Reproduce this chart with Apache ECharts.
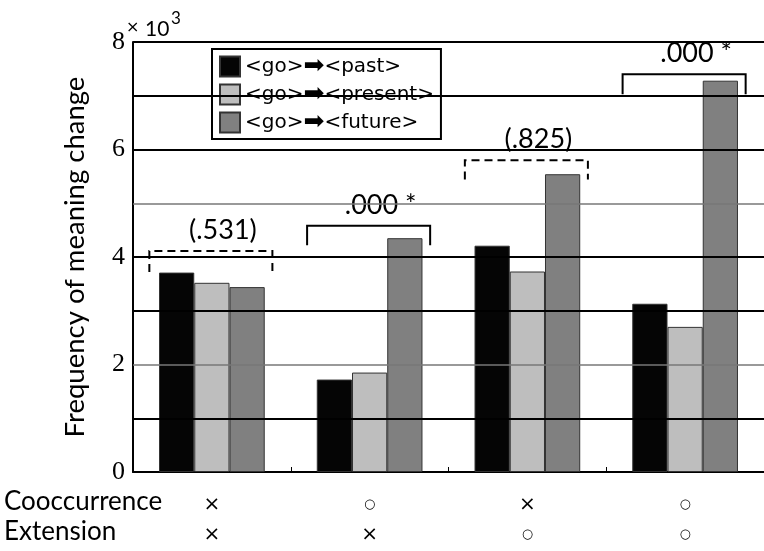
<!DOCTYPE html>
<html>
<head>
<meta charset="utf-8">
<script src="https://cdn.jsdelivr.net/npm/echarts@6/dist/echarts.min.js"></script>
<style>
  html, body { margin: 0; padding: 0; background: #fff; }
  #container { width: 764px; height: 551px; }
</style>
</head>
<body>
<div id="container"></div>
<script>
// data (frequency, raw counts)
var seriesNames = ['<go>➡<past>', '<go>➡<present>', '<go>➡<future>'];
var pastValues = [3710, 1720, 4210, 3130];
var presentValues = [3520, 1850, 3730, 2700];
var futureValues = [3440, 4350, 5540, 7280];
var cooccurrence = ['×', '○', '×', '○'];
var extension = ['×', '×', '○', '○'];
var categories = ['G1', 'G2', 'G3', 'G4'];
// significance brackets: [category, top, leg end, dashed, label]
var brackets = [
	[0, 4110, 3720, 1, '(.531)'],
	[1, 4580, 4220, 0, '.000 *'],
	[2, 5800, 5440, 1, '(.825)'],
	[3, 7400, 7030, 0, '.000 *']
];
var grayGridValues = [2000, 5000];

var dom = document.getElementById("container");
var myChart = echarts.init(dom);

function bracketItem(params, api) {
	var cat = api.value(0);
	var top = api.coord([cat, api.value(1)]);
	var legY = api.coord([cat, api.value(2)])[1];
	var half = api.size([1, 0])[0] * 0.39;
	var dashed = api.value(3) === 1;
	var cx = top[0] - 1;
	return {
		type: 'group',
		children: [{
			type: 'polyline',
			shape: { points: [[cx - half, legY], [cx - half, top[1]], [cx + half, top[1]], [cx + half, legY]] },
			style: { stroke: '#000', lineWidth: 2, fill: null, lineDash: dashed ? [8, 5] : null }
		}, {
			type: 'text',
			x: cx + 12,
			y: top[1] - 7,
			style: {
				text: brackets[params.dataIndex][4],
				font: '27px Lato',
				fill: '#000',
				align: 'center',
				verticalAlign: 'bottom'
			}
		}]
	};
}

function symbolLabel(s) {
	return s === '×' ? '{x|×}' : '{o|○}';
}

var barBorder = { borderColor: '#333', borderWidth: 1 };

var option = {
	animation: false,
	backgroundColor: '#fff',
	grid: { left: 133, top: 42, width: 644, height: 430, containLabel: false },
	legend: {
		data: seriesNames,
		orient: 'vertical',
		left: 212,
		top: 49,
		icon: 'rect',
		itemWidth: 20,
		itemHeight: 20,
		itemGap: 3,
		padding: [5, 7, 4, 7],
		backgroundColor: '#fff',
		borderColor: '#000',
		borderWidth: 2,
		formatter: function (name) {
			var parts = name.split('➡');
			return '{t|' + parts[0] + '}{a|➡}{t|' + parts[1] + '}';
		},
		textStyle: {
			rich: {
				t: { fontFamily: 'DejaVu Sans', fontSize: 20, color: '#000' },
				a: { fontFamily: 'DejaVu Sans', fontSize: 25, color: '#000' }
			}
		}
	},
	xAxis: {
		type: 'category',
		data: categories,
		axisLine: { lineStyle: { color: '#000', width: 2 } },
		axisTick: { show: true, inside: true, length: 5, lineStyle: { color: '#000', width: 1 } },
		axisLabel: {
			margin: 18,
			formatter: function (v, i) {
				return symbolLabel(cooccurrence[i]) + '\n' + symbolLabel(extension[i]);
			},
			rich: {
				x: { fontFamily: 'DejaVu Sans', fontSize: 20, lineHeight: 30, color: '#000' },
				o: { fontFamily: 'DejaVu Sans', fontSize: 13, lineHeight: 30, color: '#000' }
			}
		}
	},
	yAxis: {
		type: 'value',
		min: 0,
		max: 8000,
		interval: 1000,
		name: 'Frequency of meaning change',
		nameLocation: 'middle',
		nameGap: 44,
		nameTextStyle: { fontFamily: 'Lato', fontSize: 27.5, color: '#000' },
		axisLine: { show: true, lineStyle: { color: '#000', width: 2 } },
		axisTick: { show: false },
		axisLabel: {
			margin: 8,
			fontFamily: 'Liberation Serif',
			fontSize: 26,
			color: '#000',
			formatter: function (v) {
				return v % 2000 === 0 ? String(v / 1000) : '';
			}
		},
		splitLine: { show: false }
	},
	graphic: [
		{ type: 'text', left: 4, top: 489, style: { text: 'Cooccurrence', font: '26px Lato', fill: '#000' } },
		{ type: 'text', left: 4, top: 519, style: { text: 'Extension', font: '26px Lato', fill: '#000' } },
		{ type: 'text', left: 126, top: 20, style: { text: '×', font: '16px DejaVu Sans', fill: '#000' } },
		{ type: 'text', left: 145, top: 19, style: { text: '10', font: '21px Lato', fill: '#000' } },
		{ type: 'text', left: 171, top: 10, style: { text: '3', font: '17px Lato', fill: '#000' } }
	],
	series: [
		{
			// grid lines
			type: 'line',
			data: [],
			z: 1,
			silent: true,
			markLine: {
				symbol: 'none',
				silent: true,
				label: { show: false },
				data: [1000, 2000, 3000, 4000, 5000, 6000, 7000, 8000].map(function (v) {
					var gray = grayGridValues.indexOf(v) >= 0;
					return { yAxis: v, lineStyle: { color: gray ? '#777' : '#000', width: gray ? 1.5 : 2, type: 'solid' } };
				})
			}
		},
		{ name: seriesNames[0], type: 'bar', z: 3, barGap: '0%', barCategoryGap: '33%', data: pastValues, itemStyle: Object.assign({ color: '#050505' }, barBorder) },
		{ name: seriesNames[1], type: 'bar', z: 3, data: presentValues, itemStyle: Object.assign({ color: '#bebebe' }, barBorder) },
		{ name: seriesNames[2], type: 'bar', z: 3, data: futureValues, itemStyle: Object.assign({ color: '#808080' }, barBorder) },
		{
			type: 'custom',
			z: 4,
			renderItem: bracketItem,
			encode: { x: 0, y: 1 },
			data: brackets.map(function (b) { return [b[0], b[1], b[2], b[3]]; })
		}
	]
};

myChart.setOption(option, true);
</script>
</body>
</html>
